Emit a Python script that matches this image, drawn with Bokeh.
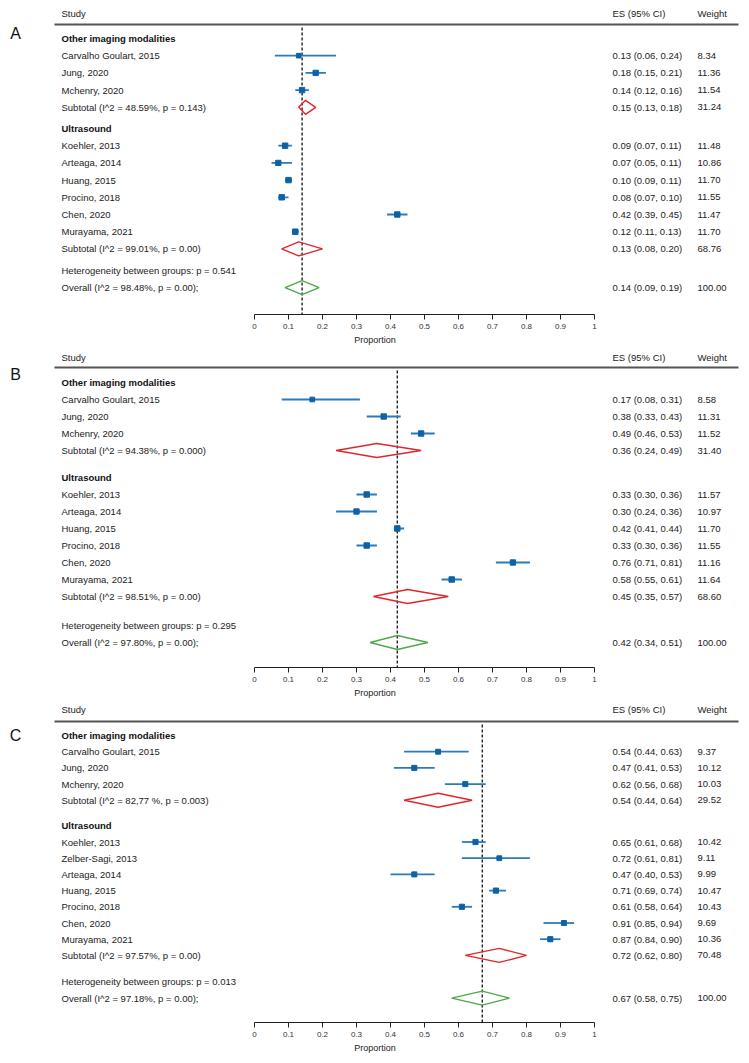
from bokeh.plotting import figure
from bokeh.models import Range1d, FixedTicker
from bokeh.layouts import column
from bokeh.embed import file_html
from bokeh.resources import INLINE
from bokeh.core.properties import value

# ---------------- data ----------------
group_names = ["Other imaging modalities", "Ultrasound"]
tick_values = [0, 0.1, 0.2, 0.3, 0.4, 0.5, 0.6, 0.7, 0.8, 0.9, 1]
tick_labels = ["0", "0.1", "0.2", "0.3", "0.4", "0.5", "0.6", "0.7", "0.8", "0.9", "1"]

# Panel A
a_g1_studies = ["Carvalho Goulart, 2015", "Jung, 2020", "Mchenry, 2020"]
a_g1_es = [0.13, 0.18, 0.14]
a_g1_lo = [0.06, 0.15, 0.12]
a_g1_hi = [0.24, 0.21, 0.16]
a_g1_w = [8.34, 11.36, 11.54]
a_g1_sub = ["Subtotal  (I^2 = 48.59%, p = 0.143)", 0.15, 0.13, 0.18, 31.24]
a_g2_studies = ["Koehler, 2013", "Arteaga, 2014", "Huang, 2015", "Procino, 2018",
                "Chen, 2020", "Murayama, 2021"]
a_g2_es = [0.09, 0.07, 0.10, 0.08, 0.42, 0.12]
a_g2_lo = [0.07, 0.05, 0.09, 0.07, 0.39, 0.11]
a_g2_hi = [0.11, 0.11, 0.11, 0.10, 0.45, 0.13]
a_g2_w = [11.48, 10.86, 11.70, 11.55, 11.47, 11.70]
a_g2_sub = ["Subtotal  (I^2 = 99.01%, p = 0.00)", 0.13, 0.08, 0.20, 68.76]
a_het = "Heterogeneity between groups: p = 0.541"
a_overall = ["Overall  (I^2 = 98.48%, p = 0.00);", 0.14, 0.09, 0.19, 100.00]

# Panel B
b_g1_studies = ["Carvalho Goulart, 2015", "Jung, 2020", "Mchenry, 2020"]
b_g1_es = [0.17, 0.38, 0.49]
b_g1_lo = [0.08, 0.33, 0.46]
b_g1_hi = [0.31, 0.43, 0.53]
b_g1_w = [8.58, 11.31, 11.52]
b_g1_sub = ["Subtotal  (I^2 = 94.38%, p = 0.000)", 0.36, 0.24, 0.49, 31.40]
b_g2_studies = ["Koehler, 2013", "Arteaga, 2014", "Huang, 2015", "Procino, 2018",
                "Chen, 2020", "Murayama, 2021"]
b_g2_es = [0.33, 0.30, 0.42, 0.33, 0.76, 0.58]
b_g2_lo = [0.30, 0.24, 0.41, 0.30, 0.71, 0.55]
b_g2_hi = [0.36, 0.36, 0.44, 0.36, 0.81, 0.61]
b_g2_w = [11.57, 10.97, 11.70, 11.55, 11.16, 11.64]
b_g2_sub = ["Subtotal  (I^2 = 98.51%, p = 0.00)", 0.45, 0.35, 0.57, 68.60]
b_het = "Heterogeneity between groups: p = 0.295"
b_overall = ["Overall  (I^2 = 97.80%, p = 0.00);", 0.42, 0.34, 0.51, 100.00]

# Panel C
c_g1_studies = ["Carvalho Goulart, 2015", "Jung, 2020", "Mchenry, 2020"]
c_g1_es = [0.54, 0.47, 0.62]
c_g1_lo = [0.44, 0.41, 0.56]
c_g1_hi = [0.63, 0.53, 0.68]
c_g1_w = [9.37, 10.12, 10.03]
c_g1_sub = ["Subtotal  (I^2 = 82,77 %, p = 0.003)", 0.54, 0.44, 0.64, 29.52]
c_g2_studies = ["Koehler, 2013", "Zelber-Sagi, 2013", "Arteaga, 2014", "Huang, 2015",
                "Procino, 2018", "Chen, 2020", "Murayama, 2021"]
c_g2_es = [0.65, 0.72, 0.47, 0.71, 0.61, 0.91, 0.87]
c_g2_lo = [0.61, 0.61, 0.40, 0.69, 0.58, 0.85, 0.84]
c_g2_hi = [0.68, 0.81, 0.53, 0.74, 0.64, 0.94, 0.90]
c_g2_w = [10.42, 9.11, 9.99, 10.47, 10.43, 9.69, 10.36]
c_g2_sub = ["Subtotal  (I^2 = 97.57%, p = 0.00)", 0.72, 0.62, 0.80, 70.48]
c_het = "Heterogeneity between groups: p = 0.013"
c_overall = ["Overall  (I^2 = 97.18%, p = 0.00);", 0.67, 0.58, 0.75, 100.00]

# ---------------- style / layout ----------------
FONT = value("Liberation Sans")
FS = "9.5px"
X0_PX, X1_PX = 254.0, 594.0       # page x of proportion 0 and 1
PAGE_L, PAGE_R = 0, 749
CI_COLOR = "#2b7bba"
BOX_COLOR = "#0d62a6"
RED = "#e3262c"
GREEN = "#4fa84a"


def px(xp):
    return (xp - X0_PX) / (X1_PX - X0_PX)


def make_panel(letter, g1, g2, het, overall, lay, frame_top):
    axis_y = lay["axis"]
    p = figure(frame_width=PAGE_R - PAGE_L, frame_height=int(axis_y - frame_top),
               x_range=Range1d(px(PAGE_L), px(PAGE_R)),
               y_range=Range1d(axis_y, frame_top),
               y_axis_location=None, output_backend="svg", toolbar_location=None,
               min_border=0, min_border_left=0, min_border_right=0,
               min_border_top=0, min_border_bottom=0)
    p.xgrid.visible = False
    p.ygrid.visible = False
    p.outline_line_color = None
    p.background_fill_color = "white"

    ax = p.xaxis[0]
    ax.bounds = (0, 1)
    ax.ticker = FixedTicker(ticks=tick_values)
    ax.major_label_overrides = dict(zip(tick_values, tick_labels))
    ax.axis_line_color = "#222222"
    ax.axis_line_width = 1.2
    ax.major_tick_line_color = "#222222"
    ax.major_tick_out = 5
    ax.major_tick_in = 0
    ax.minor_tick_out = 0
    ax.minor_tick_in = 0
    ax.major_label_standoff = 4
    ax.major_label_text_font = "Liberation Sans"
    ax.major_label_text_font_size = "8px"
    ax.major_label_text_color = "#333333"
    ax.axis_label = "Proportion"
    ax.axis_label_standoff = 3
    ax.axis_label_text_font = "Liberation Sans"
    ax.axis_label_text_font_size = "9px"
    ax.axis_label_text_font_style = "normal"
    ax.axis_label_text_color = "#222222"

    # header
    hy = lay["study"]
    p.text(x=[px(61)], y=[hy], text=["Study"], text_font=FONT, text_font_size=FS,
           text_baseline="middle", text_color="#222222")
    p.text(x=[px(612), px(697)], y=[hy, hy], text=["ES (95% CI)", "Weight"],
           text_font=FONT, text_font_size=FS, text_baseline="middle", text_color="#222222")
    ly = lay["line"]
    p.segment(x0=[px(54)], y0=[ly], x1=[px(738)], y1=[ly], line_color="#555555", line_width=2)
    p.text(x=[px(15)], y=[lay["letter"]], text=[letter], text_font=FONT, text_font_size="16px",
           text_align="center", text_baseline="middle", text_color="#111111")

    # rows
    sp = lay["sp"]
    y = lay["first"]
    lab_y, lab_t = [], []
    bold_x, bold_y, bold_t = [], [], []
    st_y, st_es, st_lo, st_hi, st_sz = [], [], [], [], []
    es_y, es_t, w_t = [], [], []
    dia = []
    for gi, (studies, es, lo, hi, w, sub) in enumerate([g1, g2]):
        bold_x.append(px(61)); bold_y.append(y); bold_t.append(group_names[gi])
        y += sp
        for s, e, l, h, ww in zip(studies, es, lo, hi, w):
            lab_y.append(y); lab_t.append(s)
            st_y.append(y); st_es.append(e); st_lo.append(l); st_hi.append(h)
            st_sz.append(5.4 * (ww / 11.5) ** 0.5)
            es_y.append(y); es_t.append(f"{e:.2f} ({l:.2f}, {h:.2f})"); w_t.append(f"{ww:.2f}")
            y += sp
        lab_y.append(y); lab_t.append(sub[0])
        es_y.append(y); es_t.append(f"{sub[1]:.2f} ({sub[2]:.2f}, {sub[3]:.2f})")
        w_t.append(f"{sub[4]:.2f}")
        dia.append((sub[1], sub[2], sub[3], y, RED))
        y += lay["gap"] if gi == 0 else lay["hgap"]
    lab_y.append(y); lab_t.append(het)
    y += sp
    lab_y.append(y); lab_t.append(overall[0])
    es_y.append(y); es_t.append(f"{overall[1]:.2f} ({overall[2]:.2f}, {overall[3]:.2f})")
    w_t.append(f"{overall[4]:.2f}")
    dia.append((overall[1], overall[2], overall[3], y, GREEN))

    # dashed overall line
    p.segment(x0=[overall[1]], y0=[ly + 3], x1=[overall[1]], y1=[axis_y],
              line_color="#222222", line_width=1.4, line_dash="3 2")

    p.text(x=bold_x, y=bold_y, text=bold_t, text_font=FONT, text_font_size=FS,
           text_font_style="bold", text_baseline="middle", text_color="#111111")
    p.text(x=[px(61)] * len(lab_y), y=lab_y, text=lab_t, text_font=FONT, text_font_size=FS,
           text_baseline="middle", text_color="#222222")
    p.text(x=[px(612)] * len(es_y), y=es_y, text=es_t, text_font=FONT, text_font_size=FS,
           text_baseline="middle", text_color="#222222")
    p.text(x=[px(697)] * len(es_y), y=es_y, text=w_t, text_font=FONT, text_font_size=FS,
           text_baseline="middle", text_color="#222222")

    p.segment(x0=st_lo, y0=st_y, x1=st_hi, y1=st_y, line_color=CI_COLOR, line_width=1.8)
    p.scatter(x=st_es, y=st_y, size=st_sz, marker="square", fill_color=BOX_COLOR,
              line_color=BOX_COLOR)

    for (e, l, h, yy, col) in dia:
        p.patch(x=[l, e, h, e, l], y=[yy, yy - 7, yy, yy + 7, yy], fill_color=None,
                line_color=col, line_width=1.4)
    return p


AX_H = 33
layA = dict(study=13, line=24, letter=33, first=38, sp=17.2, gap=21.2, hgap=21.6, axis=314)
layB = dict(study=357, line=367, letter=374, first=382, sp=17.0, gap=27, hgap=29, axis=667)
layC = dict(study=709, line=721, letter=735, first=735, sp=16.2, gap=25.5, hgap=26.5, axis=1022)

pA = make_panel("A", (a_g1_studies, a_g1_es, a_g1_lo, a_g1_hi, a_g1_w, a_g1_sub),
                (a_g2_studies, a_g2_es, a_g2_lo, a_g2_hi, a_g2_w, a_g2_sub),
                a_het, a_overall, layA, 0)
pB = make_panel("B", (b_g1_studies, b_g1_es, b_g1_lo, b_g1_hi, b_g1_w, b_g1_sub),
                (b_g2_studies, b_g2_es, b_g2_lo, b_g2_hi, b_g2_w, b_g2_sub),
                b_het, b_overall, layB, layA["axis"] + AX_H)
pC = make_panel("C", (c_g1_studies, c_g1_es, c_g1_lo, c_g1_hi, c_g1_w, c_g1_sub),
                (c_g2_studies, c_g2_es, c_g2_lo, c_g2_hi, c_g2_w, c_g2_sub),
                c_het, c_overall, layC, layB["axis"] + AX_H)

layout = column(pA, pB, pC, spacing=0)
open("out.html", "w").write(file_html(layout, INLINE))
